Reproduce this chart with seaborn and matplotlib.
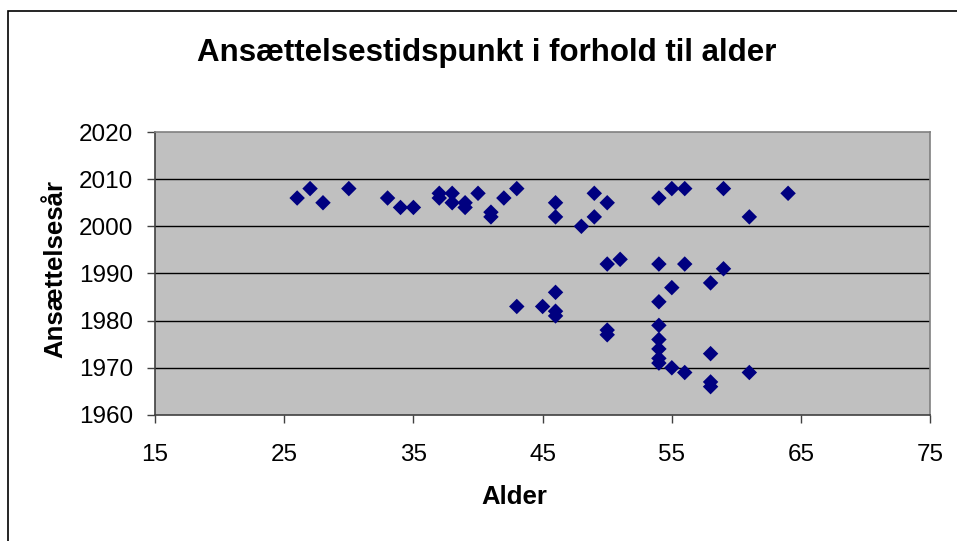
import pandas as pd
import matplotlib.pyplot as plt
import seaborn as sns
from matplotlib.patches import Rectangle

# Alder (age) and ansættelsesår (year of hire)
alder = [26, 27, 28, 30, 33, 34, 35, 37, 37, 38, 38, 39, 39, 40, 41, 41, 42, 43,
         43, 45, 46, 46, 46, 46, 46, 48, 49, 49, 50, 50, 50, 50, 51,
         54, 54, 54, 54, 54, 54, 54, 54, 55, 55, 55, 56, 56, 56,
         58, 58, 58, 58, 59, 59, 61, 61, 64]
aar = [2006, 2008, 2005, 2008, 2006, 2004, 2004, 2007, 2006, 2007, 2005, 2005, 2004, 2007, 2003, 2002, 2006, 2008,
       1983, 1983, 2005, 2002, 1986, 1982, 1981, 2000, 2007, 2002, 2005, 1992, 1978, 1977, 1993,
       2006, 1992, 1984, 1979, 1976, 1974, 1972, 1971, 2008, 1987, 1970, 2008, 1992, 1969,
       1988, 1973, 1967, 1966, 2008, 1991, 2002, 1969, 2007]
x_ticks = [15, 25, 35, 45, 55, 65, 75]
y_ticks = [1960, 1970, 1980, 1990, 2000, 2010, 2020]

df = pd.DataFrame({'Alder': alder, 'Ansættelsesår': aar})

sns.set_style('white', {'axes.facecolor': '#C0C0C0'})
plt.rcParams['font.family'] = ['Liberation Sans', 'DejaVu Sans']
plt.rcParams['text.color'] = 'black'
plt.rcParams['axes.labelcolor'] = 'black'

fig = plt.figure(figsize=(9.57, 5.41), dpi=100)
ax = fig.add_axes([0.162, 0.233, 0.810, 0.523])

# outer chart border
fig.patches.append(Rectangle((0.008, -0.1), 1.2, 0.98 + 0.1, transform=fig.transFigure,
                             fill=False, edgecolor='black', linewidth=1.2, zorder=0))

for y in y_ticks[1:-1]:
    ax.axhline(y, color='black', linewidth=1, zorder=1)

sns.scatterplot(data=df, x='Alder', y='Ansættelsesår', marker='D', color='#000080',
                s=62, edgecolor='none', ax=ax, zorder=3)

ax.set_xlim(15, 75)
ax.set_ylim(1960, 2020)
ax.set_xticks(x_ticks)
ax.set_yticks(y_ticks)
ax.tick_params(axis='both', direction='out', length=6, width=1, color='#404040',
               labelsize=17.5, labelcolor='black', bottom=True, left=True)
ax.tick_params(axis='x', pad=15)
ax.tick_params(axis='y', pad=10)
for side in ['left', 'bottom']:
    ax.spines[side].set_color('#404040')
    ax.spines[side].set_linewidth(1.2)
for side in ['right', 'top']:
    ax.spines[side].set_color('#808080')
    ax.spines[side].set_linewidth(1.2)

ax.set_xlabel('Alder', fontsize=18.5, fontweight='bold')
ax.set_ylabel('Ansættelsesår', fontsize=18.5, fontweight='bold')
ax.xaxis.set_label_coords(0.463, -0.29)
ax.yaxis.set_label_coords(-0.129, 0.516)
ax.xaxis.label.set_va('center')
ax.yaxis.label.set_va('center')
fig.text(0.509, 0.902, 'Ansættelsestidspunkt i forhold til alder', ha='center', va='center',
         fontsize=22.5, fontweight='bold')

fig.savefig('out.png', dpi=100)
